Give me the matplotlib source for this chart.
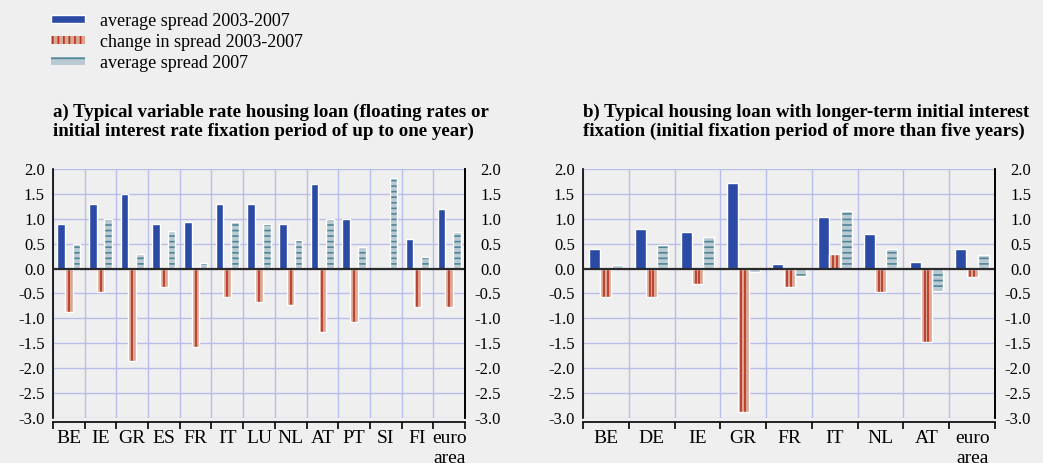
import numpy as np
import matplotlib
matplotlib.use("Agg")
import matplotlib.pyplot as plt
from matplotlib.patches import Patch

plt.rcParams["font.family"] = ["Liberation Serif", "DejaVu Serif"]
plt.rcParams["hatch.linewidth"] = 1.2

# Panel a) variable rate housing loans
countries_a = ["BE", "IE", "GR", "ES", "FR", "IT", "LU", "NL", "AT", "PT", "SI", "FI", "euro\narea"]
avg_0307_a = [0.9, 1.3, 1.5, 0.9, 0.93, 1.3, 1.3, 0.9, 1.7, 1.0, np.nan, 0.6, 1.2]
chg_0307_a = [-0.87, -0.47, -1.86, -0.37, -1.57, -0.57, -0.68, -0.74, -1.28, -1.08, np.nan, -0.78, -0.78]
avg_2007_a = [0.5, 1.0, 0.3, 0.75, 0.12, 0.94, 0.89, 0.58, 1.0, 0.43, 1.82, 0.24, 0.74]

# Panel b) housing loans with initial fixation of more than five years
countries_b = ["BE", "DE", "IE", "GR", "FR", "IT", "NL", "AT", "euro\narea"]
avg_0307_b = [0.4, 0.79, 0.73, 1.72, 0.1, 1.04, 0.69, 0.14, 0.4]
chg_0307_b = [-0.57, -0.57, -0.31, -2.87, -0.37, 0.29, -0.47, -1.47, -0.17]
avg_2007_b = [0.07, 0.47, 0.63, -0.07, -0.15, 1.16, 0.4, -0.45, 0.28]

legend_labels = ["average spread 2003-2007", "change in spread 2003-2007", "average spread 2007"]
title_a = "a) Typical variable rate housing loan (floating rates or\ninitial interest rate fixation period of up to one year)"
title_b = "b) Typical housing loan with longer-term initial interest\nfixation (initial fixation period of more than five years)"

BG = "#efefef"
GRID = "#b9bde9"
BLUE = "#2b4aa6"
RED_FILL = "#dba693"
RED_LINE = "#b5321f"
LIGHT_FILL = "#b9cad2"
LIGHT_LINE = "#4f8597"

yticks = np.arange(-3.0, 2.01, 0.5)

fig = plt.figure(figsize=(10.43, 4.63), dpi=100, facecolor=BG)


def draw_panel(rect, cats, blue, red, light, title, red_offsets):
    ax = fig.add_axes(rect)
    ax.set_facecolor(BG)
    n = len(cats)
    x = np.arange(n) + 0.5
    w = 0.24
    d = 0.245

    # grid
    ax.set_xlim(0, n)
    ax.set_ylim(-3.0, 2.0)
    ax.set_yticks(yticks)
    ax.set_yticklabels([f"{v:.1f}" for v in yticks])
    ax.set_xticks(x)
    ax.set_xticklabels(cats, linespacing=0.95)
    ax.set_xticks(np.arange(0, n + 1), minor=True)
    ax.grid(axis="y", which="major", color=GRID, lw=1.0, zorder=0)
    ax.grid(axis="x", which="minor", color=GRID, lw=1.0, zorder=0)
    ax.set_axisbelow(True)

    # bars
    ax.bar(x - d, blue, w, color=BLUE, edgecolor="white", lw=1.0, zorder=3)
    ax.bar(x, red, w, color=RED_FILL, lw=0, zorder=3)
    red_arr = np.asarray(red, dtype=float)
    for off in red_offsets:
        ax.vlines(x + off * w, 0, red_arr, color=RED_LINE, lw=1.2, zorder=3.5)
    ax.bar(x, red, w, fill=False, edgecolor="white", lw=1.0, zorder=3.6)
    ax.bar(x + d, light, w, color=LIGHT_FILL, edgecolor=LIGHT_LINE, hatch="---", lw=0, zorder=3)
    ax.bar(x + d, light, w, fill=False, edgecolor="white", lw=1.0, zorder=3.6)

    ax.axhline(0, color="#2a2a2a", lw=1.6, zorder=4)

    # spines and ticks
    ax.spines["top"].set_visible(False)
    for s in ("left", "right"):
        ax.spines[s].set_color("black")
        ax.spines[s].set_linewidth(1.2)
    ax.spines["bottom"].set_position(("outward", 3))
    ax.spines["bottom"].set_linewidth(1.2)
    ax.tick_params(axis="y", which="both", length=0, labelsize=12, pad=5.8)
    ax.tick_params(axis="x", which="major", length=0, labelsize=14, pad=6)
    ax.tick_params(axis="x", which="minor", length=5, width=1.2, direction="out")

    # right-hand labels, right-aligned
    ax2 = ax.twinx()
    ax2.set_ylim(-3.0, 2.0)
    ax2.set_yticks(yticks)
    ax2.set_yticklabels([f"{v:.1f}" for v in yticks])
    ax2.tick_params(axis="y", length=0, labelsize=12, pad=26)
    for lab in ax2.get_yticklabels():
        lab.set_horizontalalignment("right")
    for s in ("top", "bottom", "left"):
        ax2.spines[s].set_visible(False)
    ax2.spines["right"].set_linewidth(1.2)

    ax.set_title(title, loc="left", fontsize=13.6, fontweight="bold",
                 linespacing=1.12, pad=24, x=0.0)
    return ax


draw_panel([0.0508, 0.0972, 0.395, 0.538], countries_a, avg_0307_a, chg_0307_a,
           avg_2007_a, title_a, [0.0])
draw_panel([0.559, 0.0972, 0.395, 0.538], countries_b, avg_0307_b, chg_0307_b,
           avg_2007_b, title_b, [-0.16, 0.16])

handles = [
    Patch(facecolor=BLUE, edgecolor="white", lw=1.0),
    Patch(facecolor=RED_FILL, edgecolor=RED_LINE, hatch="|||", lw=0),
    Patch(facecolor=LIGHT_FILL, edgecolor=LIGHT_LINE, hatch="-", lw=0),
]
fig.legend(handles, legend_labels, loc="upper left", bbox_to_anchor=(0.037, 1.0),
           frameon=False, fontsize=13, handlelength=1.85, handleheight=0.33,
           handletextpad=0.85, labelspacing=0.22, borderaxespad=0.3)

fig.savefig("out.png", dpi=100, facecolor=BG)
